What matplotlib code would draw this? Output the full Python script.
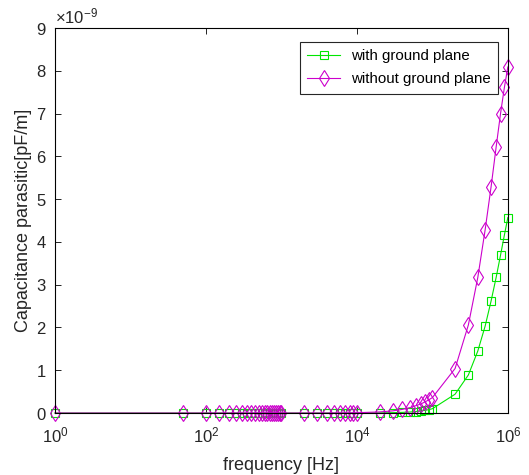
import numpy as np
import matplotlib
matplotlib.use('Agg')
import matplotlib.pyplot as plt
from matplotlib.ticker import FixedLocator, NullLocator, ScalarFormatter

plt.rcParams['font.family'] = ['Liberation Sans', 'DejaVu Sans']
plt.rcParams['mathtext.fontset'] = 'custom'
plt.rcParams['mathtext.rm'] = 'Liberation Sans'
plt.rcParams['mathtext.it'] = 'Liberation Sans:italic'
plt.rcParams['mathtext.default'] = 'regular'

# Frecuencias de la simulación [Hz]
freq = [1,
        50, 100, 150, 200, 250, 300, 350, 400, 450, 500,
        550, 600, 650, 700, 750, 800, 850, 900, 950, 1000,
        2000, 3000, 4000, 5000, 6000, 7000, 8000, 9000, 10000,
        20000, 30000, 40000, 50000, 60000, 70000, 80000, 90000, 100000,
        200000, 300000, 400000, 500000, 600000, 700000, 800000, 900000, 1000000]

# Capacitancia parásita (unidades de 1e-9)
with_gp = [0.0,
           0.0, 0.0, 0.0, 0.0, 0.0, 0.0, 0.0, 0.0, 0.0, 0.0,
           0.0, 0.0, 0.0, 0.0, 0.0, 0.0, 0.0, 0.0, 0.0, 0.0,
           0.0, 0.0, 0.0, 0.0, 0.0, 0.0, 0.0, 0.0, 0.001,
           0.004, 0.008, 0.015, 0.023, 0.034, 0.047, 0.063, 0.08, 0.1,
           0.44, 0.89, 1.45, 2.03, 2.62, 3.17, 3.69, 4.16, 4.57]

without_gp = [0.0,
              0.0, 0.0, 0.0, 0.0, 0.0, 0.0, 0.0, 0.0, 0.0, 0.0,
              0.0, 0.0, 0.0, 0.0, 0.0, 0.0, 0.0, 0.0, 0.0, 0.0,
              0.0, 0.0, 0.0, 0.001, 0.002, 0.003, 0.004, 0.005, 0.007,
              0.025, 0.05, 0.085, 0.125, 0.17, 0.21, 0.26, 0.31, 0.36,
              1.04, 2.06, 3.17, 4.28, 5.29, 6.22, 7.0, 7.61, 8.09]

f = np.array(freq)
c_with = np.array(with_gp) * 1e-9
c_without = np.array(without_gp) * 1e-9

txt = '#262626'
fig = plt.figure(figsize=(5.29, 4.75), dpi=100)
ax = fig.add_axes([0.104, 0.1305, 0.856, 0.8105])

ax.semilogx(f, c_with, '-s', color='#00e600', lw=0.8, ms=5.5, mew=0.8,
            mfc='none', label='with ground plane', clip_on=False)
ax.semilogx(f, c_without, '-d', color='#cc00cc', lw=0.8, ms=8, mew=0.8,
            mfc='none', label='without ground plane', clip_on=False)

ax.set_xlim(1, 1e6)
ax.set_ylim(0, 9e-9)
ax.xaxis.set_major_locator(FixedLocator([1, 1e2, 1e4, 1e6]))
ax.xaxis.set_minor_locator(NullLocator())
ax.set_yticks(np.arange(0, 10) * 1e-9)

fmt = ScalarFormatter(useMathText=True)
fmt.set_powerlimits((0, 0))
ax.yaxis.set_major_formatter(fmt)

ax.tick_params(direction='in', top=True, right=True, labelsize=12, length=4,
               width=0.6, labelcolor=txt)
ax.tick_params(axis='x', pad=9)
ax.tick_params(axis='y', pad=6)
ax.yaxis.get_offset_text().set_fontsize(12)
ax.yaxis.get_offset_text().set_color(txt)
for s in ax.spines.values():
    s.set_linewidth(0.8)

ax.set_xlabel('frequency [Hz]', fontsize=13, color=txt, labelpad=8)
ax.set_ylabel('Capacitance parasitic[pF/m]', fontsize=13, color=txt, labelpad=3)

leg = ax.legend(loc='upper right', bbox_to_anchor=(0.978, 0.964), borderaxespad=0,
                fontsize=10.8, fancybox=False, framealpha=1, edgecolor=txt,
                handlelength=2.2, handletextpad=0.7, borderpad=0.5,
                labelspacing=0.6)
leg.get_frame().set_linewidth(0.8)

fig.savefig('out.png', dpi=100)
